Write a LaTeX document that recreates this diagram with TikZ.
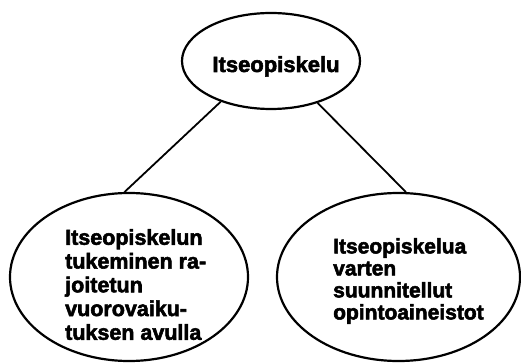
\documentclass[tikz,border=0pt]{standalone}
\usepackage{fontspec}
\setmainfont{Liberation Sans}
\newfontfamily\heavyfont[FakeBold=2.5]{Liberation Sans Bold}
\usetikzlibrary{shapes.geometric}
\tikzset{
  oval/.style={ellipse, draw=black, line width=2.2pt, inner sep=0pt},
  label text/.style={inner sep=0pt, align=left, font=\heavyfont},
  link/.style={draw=black, line width=1.8pt}
}
\begin{document}
\begin{tikzpicture}[x=1pt, y=-1pt]
\useasboundingbox[fill=white] (0,0) rectangle (521,363);
\node[oval, minimum width=178pt, minimum height=96pt] (top) at (271,61) {};
\node[oval, minimum width=238pt, minimum height=168pt] (left) at (129,277) {};
\node[oval, minimum width=243pt, minimum height=168pt] (right) at (398.5,277) {};
\node[label text, anchor=base, font=\heavyfont\fontsize{22}{24}\selectfont] (ttop) at (276,72) {Itseopiskelu};
\node[label text, anchor=north west, font=\heavyfont\fontsize{21.5}{23.75}\selectfont] (tleft) at (65,229)
  {Itseopiskelun\\tukeminen ra-\\joitetun\\vuorovaiku-\\tuksen avulla};
\node[label text, anchor=north west, font=\heavyfont\fontsize{21}{22}\selectfont] (tright) at (333,238)
  {Itseopiskelua\\varten\\suunnitellut\\opintoaineistot};
\draw[link] (top.219) -- (left.93);
\draw[link] (top.318) -- (right.85);
\end{tikzpicture}
\end{document}
